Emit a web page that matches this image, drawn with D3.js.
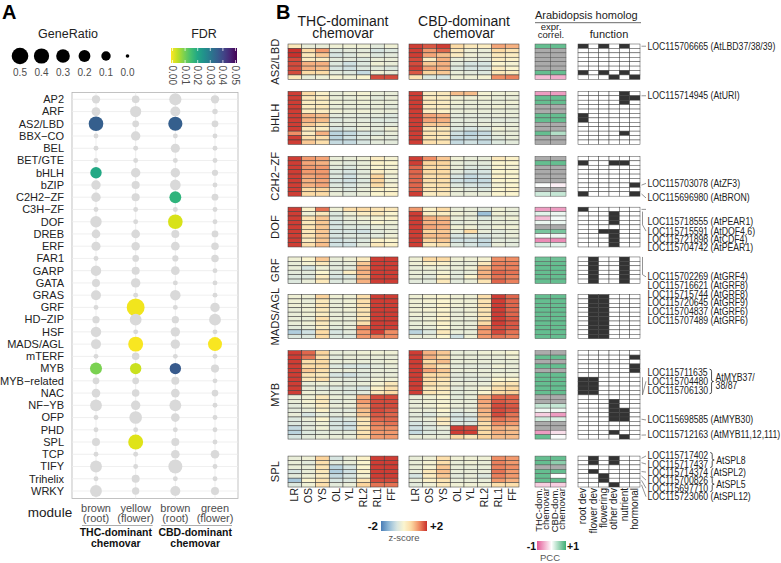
<!DOCTYPE html>
<html><head><meta charset="utf-8">
<script src="https://cdn.jsdelivr.net/npm/d3@7"></script>
<style>
body{margin:0;background:#fff}
svg text{font-family:Arial,"Liberation Sans",Helvetica,sans-serif}
</style></head>
<body><svg id="c" width="781" height="563"></svg>
<script>
// ---------------- Panel A data ----------------
const families = ["AP2","ARF","AS2/LBD","BBX\u2212CO","BEL","BET/GTE","bHLH","bZIP","C2H2\u2212ZF","C3H\u2212ZF","DOF","DREB","ERF","FAR1","GARP","GATA","GRAS","GRF","HD\u2212ZIP","HSF","MADS/AGL","mTERF","MYB","MYB\u2212related","NAC","NF\u2212YB","OFP","PHD","SPL","TCP","TIFY","Trihelix","WRKY"];
const moduleColors = ["brown","yellow","brown","green"];
const moduleTissues = ["(root)","(flower)","(root)","(flower)"];
const chemovarNames = [["THC-dominant","chemovar"],["CBD-dominant","chemovar"]];
const ratio_brownTHC  = [0.066,0.08,0.36,0.005,0.005,0.005,0.18,0.1,0.1,0.005,0.18,0.076,0.09,0.005,0.14,0.057,0.12,0.005,0.04,0.14,0.12,0.005,0.21,0.03,0.076,0.2,0.005,0.005,0.057,0.005,0.2,0.005,0.2];
const ratio_yellowTHC = [0.05,0.17,0.03,0.1,0.005,0.005,0.1,0.06,0.06,0.005,0.005,0.076,0.07,0.028,0.057,0.1,0.005,0.6,0.2,0.005,0.38,0.045,0.18,0.03,0.045,0.1,0.24,0.005,0.38,0.005,0.005,0.057,0.041];
const ratio_brownCBD  = [0.22,0.12,0.33,0.005,0.09,0.005,0.1,0.15,0.2,0.005,0.36,0.057,0.076,0.02,0.076,0.005,0.14,0.005,0.04,0.1,0.1,0.005,0.18,0.057,0.076,0.2,0.076,0.005,0.057,0.076,0.32,0.005,0.12];
const ratio_greenCBD  = [0.066,0.01,0.03,0.005,0.005,0.005,0.02,0.005,0.03,0.005,0.005,0.03,0.045,0.045,0.005,0.005,0.005,0.1,0.2,0.005,0.32,0.005,0.06,0.005,0.028,0.005,0.005,0.005,0.005,0.076,0.005,0.005,0.057];
const fdr_brownTHC  = [null,null,0.035,null,null,null,0.02,null,null,null,null,null,null,null,null,null,null,null,null,null,null,null,0.01,null,null,null,null,null,null,null,null,null,null];
const fdr_yellowTHC = [null,null,null,null,null,null,null,null,null,null,null,null,null,null,null,null,null,0.001,null,null,0.0005,null,0.004,null,null,null,null,null,0.0025,null,null,null,null];
const fdr_brownCBD  = [null,null,0.035,null,null,null,null,null,0.0175,null,0.003,null,null,null,null,null,null,null,null,null,null,null,0.036,null,null,null,null,null,null,null,null,null,null];
const fdr_greenCBD  = [null,null,null,null,null,null,null,null,null,null,null,null,null,null,null,null,null,null,null,null,0.0005,null,null,null,null,null,null,null,null,null,null,null,null];
const sizeLegend = [0.5,0.4,0.3,0.2,0.1,0.0];
const fdrTicks = [0,0.01,0.02,0.03,0.04,0.05];

// ---------------- Panel B data ----------------
const groups = ["AS2/LBD","bHLH","C2H2\u2212ZF","DOF","GRF","MADS/AGL","MYB","SPL"];
const tissues = ["LR","OS","YS","OL","YL","RL2","RL1","FF"];
const functionCats = ["root dev","flower dev","flowering","other dev","nutrient","hormonal"];
const zTicks = [-2,2];

const zTHC_AS2 = [[0.3,-0.3,-0.3,-0.2,-0.2,-0.2,-0.4,-0.2],[2.0,0.6,1.2,-0.5,-0.4,-0.4,-0.6,-0.5],[2.0,0.3,0.8,-0.6,-0.5,-0.3,-0.5,-0.4],[1.8,0.2,0.2,-0.4,-0.4,-0.5,-0.3,-0.3],[1.8,1.0,1.0,-0.5,-0.7,-0.5,-0.2,-0.3],[1.8,1.0,0.9,-0.6,-0.7,-0.5,-0.4,-0.5],[1.8,0.6,0.6,-0.4,-0.5,-0.8,-0.2,-0.3],[0.3,-0.3,-0.2,-0.1,-0.2,0.0,1.8,1.8]];
const zCBD_AS2 = [[1.9,1.7,1.9,0.6,0.3,0.2,1.1,1.0],[1.9,1.2,1.6,0.3,-0.2,-0.3,0.6,0.4],[1.9,1.1,0.9,0.2,-0.2,-0.3,0.3,0.2],[1.8,0.2,1.0,-0.3,-0.3,-0.4,0.2,0.1],[1.8,0.8,1.0,-0.4,-0.6,-0.6,0.0,-0.1],[1.9,1.1,1.0,-0.5,-0.6,-0.6,0.2,0.0],[1.7,0.7,0.8,-0.3,-0.4,-0.5,0.3,0.2],[0.4,-0.5,-0.6,-0.2,-0.2,-0.1,1.3,1.4]];
const zTHC_bHLH = [[1.9,0.6,0.1,-0.3,-0.2,-0.1,-0.3,-0.3],[1.9,0.3,0.2,-0.3,-0.3,-0.2,-0.4,-0.3],[1.9,0.2,0.2,-0.2,-0.3,-0.2,-0.3,-0.3],[1.9,0.2,0.3,-0.3,-0.3,-0.3,-0.3,-0.4],[1.9,0.2,0.2,-0.2,-0.3,-0.2,-0.3,-0.3],[1.9,1.0,0.9,-0.4,-0.4,-0.4,-0.4,-0.5],[1.9,1.0,0.9,-0.5,-0.4,-0.4,-0.5,-0.5],[1.9,0.8,0.5,-0.4,-0.4,-0.3,-0.4,-0.4],[1.9,0.3,0.2,-0.6,-0.5,-0.3,-0.4,-0.2],[1.3,0.2,1.0,-0.9,-0.8,-0.6,-0.5,-0.3],[1.9,0.5,0.5,-0.9,-0.7,-0.5,-0.3,-0.4],[1.9,0.8,0.5,-0.8,-0.8,-0.6,-0.4,-0.4]];
const zCBD_bHLH = [[1.9,0.2,0.3,0.9,0.9,-0.1,-0.2,-0.2],[1.9,0.2,0.2,-0.2,-0.2,-0.2,-0.3,-0.3],[1.9,0.3,0.2,-0.2,-0.3,-0.3,-0.3,-0.2],[1.9,0.2,0.2,-0.3,-0.3,-0.3,-0.2,-0.3],[1.9,0.2,0.1,-0.3,-0.3,-0.3,-0.3,-0.3],[1.9,1.1,1.0,-0.4,-0.4,-0.4,-0.3,-0.3],[1.9,1.1,1.0,-0.4,-0.4,-0.4,-0.4,-0.4],[1.9,0.8,0.8,-0.4,-0.4,-0.3,-0.3,-0.3],[1.9,0.3,0.3,-0.5,-0.6,-0.5,-0.2,-0.3],[1.9,0.4,0.4,-0.7,-0.9,-0.8,-0.3,-0.3],[1.9,0.4,0.3,-0.8,-0.8,-0.7,-0.4,-0.3],[1.9,0.5,0.4,-0.8,-0.7,-0.8,-0.5,-0.4]];
const zTHC_C2H2 = [[1.9,1.2,1.1,-0.3,-0.3,-0.2,0.2,-0.1],[1.9,1.1,1.0,-0.3,-0.4,-0.3,0.1,0.0],[1.9,1.2,1.2,-0.4,-0.5,-0.3,0.0,-0.1],[1.9,1.2,1.2,-0.5,-0.6,-0.4,0.2,-0.1],[1.9,1.1,1.2,-0.5,-0.7,-0.4,0.7,-0.2],[1.9,1.0,1.1,-0.6,-0.7,-0.5,0.7,-0.2],[1.9,1.0,1.1,-0.5,-0.6,-0.4,0.6,-0.1],[1.9,0.6,0.7,-0.4,-0.5,-0.3,0.1,0.0],[1.9,0.6,0.6,-0.3,-0.4,-0.3,0.0,0.1]];
const zCBD_C2H2 = [[1.9,1.3,0.8,-0.2,-0.3,-0.3,0.3,0.1],[1.9,0.7,0.7,-0.3,-0.4,-0.4,0.0,0.0],[1.6,0.6,0.6,-0.3,-0.5,-0.5,0.0,-0.1],[1.6,0.6,0.6,-0.4,-0.6,-0.6,0.0,0.0],[1.6,0.5,0.6,-0.6,-0.8,-0.7,0.1,0.0],[1.6,0.5,0.5,-0.7,-0.8,-0.8,0.0,0.0],[1.6,0.4,0.5,-0.5,-0.6,-0.7,-0.1,0.0],[1.6,0.4,0.4,-0.3,-0.4,-0.5,0.0,0.1],[1.9,0.2,0.3,-0.3,-0.3,-0.3,0.0,0.0]];
const zTHC_DOF = [[1.9,0.1,1.5,-0.2,0.5,0.6,0.4,0.3],[1.9,-0.2,0.3,-0.5,-0.2,0.2,0.3,0.0],[1.9,0.4,0.8,-0.5,-0.3,-0.2,-0.1,0.0],[1.9,0.3,0.8,-0.6,-0.4,-0.3,0.0,-0.2],[1.9,0.4,0.8,-0.6,-0.5,-0.5,-0.3,-0.3],[1.9,0.3,0.8,-0.6,-0.6,-0.7,-0.4,-0.3],[1.9,0.4,0.8,-0.6,-0.5,-0.5,-0.4,-0.2],[1.9,0.2,0.8,-0.7,-0.6,-0.5,0.1,0.0],[1.9,0.5,0.9,-0.7,-0.7,-0.4,0.3,0.1]];
const zCBD_DOF = [[1.2,0.1,0.6,-0.3,-0.3,-0.4,-0.2,-0.3],[1.9,0.2,0.2,-0.2,-0.3,-1.2,-0.2,-0.3],[1.9,1.0,0.9,-0.3,-0.3,-0.5,-0.3,-0.2],[1.9,1.0,1.0,-0.4,-0.3,-0.4,-0.3,-0.3],[1.9,1.1,1.0,-0.2,-0.2,-0.4,-0.2,-0.2],[1.9,0.7,0.8,-0.3,0.6,-0.3,-0.4,-0.3],[1.9,0.9,0.9,-0.6,-0.5,-0.6,-0.4,-0.3],[1.9,0.7,0.8,-0.7,-0.7,-0.8,-0.4,-0.4],[1.9,0.3,0.5,-0.5,-0.6,-0.8,-0.3,-0.4]];
const zTHC_GRF = [[-0.2,0.0,0.8,-0.3,-0.2,0.2,1.9,1.9],[-0.3,-0.1,0.3,-0.4,-0.3,0.8,1.9,1.9],[-0.3,-0.6,-0.2,-0.4,-0.4,1.0,1.9,1.9],[-0.4,-0.4,0.0,-0.5,0.2,1.0,1.9,1.9],[-0.5,-0.5,0.2,-0.6,-0.5,0.9,1.9,1.9],[-0.5,-0.3,0.3,-0.5,-0.4,1.0,1.9,1.9]];
const zCBD_GRF = [[-0.2,0.6,0.6,-0.2,-0.2,-0.1,1.3,1.3],[-0.2,0.1,0.1,-0.3,-0.3,0.3,1.4,1.4],[-0.3,-0.2,-0.2,-0.3,-0.2,0.9,1.4,1.4],[-0.3,-0.3,-0.1,-0.4,-0.3,1.0,1.6,1.5],[-0.3,-0.4,0.1,-0.4,0.0,1.0,1.5,1.4],[-0.4,-0.4,0.3,-0.4,-0.3,0.4,1.6,1.4]];
const zTHC_MADS = [[-0.2,-0.2,0.7,-0.2,-0.2,0.5,1.9,1.9],[-0.2,-0.3,0.3,-0.3,-0.2,0.5,1.9,1.9],[-0.2,-0.2,0.4,-0.3,-0.2,0.5,1.9,1.9],[-0.3,-0.2,0.3,-0.3,-0.2,0.4,1.9,1.9],[-0.3,-0.2,0.2,-0.3,-0.3,0.4,1.9,1.9],[-0.3,-0.3,0.5,-0.3,-0.3,0.4,1.9,1.9],[-0.3,-0.2,0.3,-0.3,-0.3,0.5,1.9,1.9],[-0.4,-0.3,0.2,-0.4,-0.3,1.4,1.9,1.9],[-1.0,-0.7,0.6,-0.6,-0.4,1.2,1.9,1.3],[-0.5,-0.5,0.6,-0.5,-0.5,1.2,1.4,1.3]];
const zCBD_MADS = [[-0.2,-0.1,0.0,-0.2,-0.2,0.5,1.9,1.6],[-0.2,-0.1,0.0,-0.2,-0.2,0.4,1.9,1.6],[-0.2,-0.2,0.1,-0.2,-0.2,0.5,1.9,1.6],[-0.2,-0.1,0.0,-0.3,-0.2,0.4,1.9,1.6],[-0.2,-0.2,0.1,-0.3,-0.2,0.4,1.9,1.6],[-0.3,-0.2,0.1,-0.3,-0.3,0.4,1.9,1.7],[-0.3,-0.2,0.1,-0.3,-0.3,0.6,1.9,1.7],[-0.3,-0.3,0.0,-0.3,-0.3,1.2,1.8,1.7],[-0.9,-0.5,0.3,-0.3,-0.3,1.2,1.8,1.5],[-0.3,-0.3,0.0,-0.7,-0.2,1.2,1.5,1.4]];
const zTHC_MYB = [[1.9,1.6,0.7,-0.3,-0.3,-0.2,-0.2,-0.2],[1.9,1.5,0.5,-0.4,-0.3,-0.3,-0.3,-0.3],[1.9,0.5,0.6,-0.3,-0.3,-0.3,-0.3,-0.2],[1.9,0.6,0.6,-0.5,-0.6,-0.6,-0.4,-0.3],[1.9,0.8,0.5,-0.3,-0.3,-0.4,-0.3,-0.3],[1.9,0.4,0.3,-0.6,-0.7,-0.5,-0.3,-0.3],[1.9,0.3,0.5,-0.4,-0.4,-0.4,-0.2,-0.2],[1.9,-0.3,-0.2,-0.3,-0.4,-0.3,-0.1,0.3],[1.9,-0.3,-0.4,-0.5,-0.5,-0.6,0.1,0.4],[1.9,-0.2,-0.3,-0.4,-0.5,-0.4,0.3,0.6],[-0.3,-0.2,0.3,-0.3,-0.3,1.0,1.8,1.8],[-0.3,-0.1,0.3,-0.4,-0.3,1.2,1.8,1.8],[-0.4,-0.2,0.2,-0.3,-0.3,1.0,1.8,1.8],[-0.4,-0.3,0.1,-0.4,-0.4,0.9,1.8,1.7],[-0.3,-0.6,-0.3,-0.4,-0.3,0.8,1.7,1.6],[-0.5,-0.3,0.0,-0.6,-0.5,0.4,1.6,1.6],[-0.5,-0.4,-0.2,-0.6,-0.7,0.3,1.4,1.5],[-0.8,-0.4,-0.2,-0.6,-0.7,0.4,1.3,1.3],[-0.9,-0.5,-0.4,-0.4,-0.4,0.4,1.2,1.2],[-0.6,-0.4,-0.3,-0.3,-0.3,0.5,1.2,1.2]];
const zCBD_MYB = [[1.9,1.0,0.8,-0.3,-0.3,-0.2,-0.2,-0.1],[1.9,1.0,0.7,-0.3,-0.3,-0.3,-0.3,-0.2],[1.9,0.6,0.9,-0.3,-0.3,-0.3,-0.3,-0.3],[1.9,0.8,0.4,-0.4,-0.4,-0.4,-0.2,-0.3],[1.9,1.1,0.8,-0.3,-0.3,-0.3,-0.3,-0.3],[1.9,0.6,0.6,-0.4,-0.4,-0.3,-0.2,-0.2],[1.9,0.6,0.4,-0.4,-0.4,-0.4,0.0,0.0],[1.9,0.5,0.3,-0.3,-0.3,-0.3,0.3,0.4],[1.9,0.3,0.3,-0.4,-0.3,-0.1,0.5,0.6],[1.9,0.4,0.2,-0.4,-0.3,0.0,0.6,0.7],[-0.3,-0.2,0.0,-0.4,-0.3,1.0,1.6,1.6],[-0.3,-0.2,-0.1,-0.3,-0.3,1.1,1.7,1.6],[-0.3,-0.2,0.0,-0.3,-0.3,1.0,1.8,1.7],[-0.3,-0.3,0.0,-0.4,-0.3,1.0,1.8,1.7],[-0.4,-0.5,-0.2,-0.6,-0.5,0.9,1.8,1.5],[-0.4,-0.3,0.3,-0.6,-0.6,0.8,1.5,1.4],[-0.6,-0.4,0.2,-0.5,-0.5,0.5,1.3,1.2],[-0.7,-0.5,-0.3,1.9,1.8,0.6,1.0,0.9],[-0.8,-0.5,-0.4,1.9,1.9,0.6,1.0,0.9],[-0.3,-0.3,-0.3,0.6,0.3,0.7,0.9,0.9]];
const zTHC_SPL = [[-0.3,-0.2,0.7,-0.6,-0.3,0.1,1.9,1.9],[-0.3,-0.4,0.5,-0.4,-0.3,0.0,1.9,1.9],[-0.3,-0.3,0.4,-0.9,-0.6,0.0,1.9,1.9],[-0.6,-0.3,0.3,-1.0,-0.7,0.1,1.9,1.9],[-0.4,-0.2,0.2,-0.8,-0.6,-0.1,1.9,1.9],[-1.1,0.0,0.4,-0.6,-0.5,0.4,1.8,1.8],[-0.5,-0.2,0.5,-0.4,-0.3,0.7,1.5,1.5]];
const zCBD_SPL = [[-0.3,-0.2,0.5,-0.2,-0.2,-0.2,1.3,1.2],[-0.3,-0.1,0.5,-0.3,-0.2,-0.3,1.4,1.2],[-0.3,-0.1,0.8,-0.3,-0.3,-0.3,1.4,1.3],[-0.3,0.3,0.9,-0.3,-0.3,-0.3,1.5,1.2],[-0.6,0.2,0.8,-0.4,-0.3,-0.5,1.4,1.2],[-0.3,0.1,0.4,-0.3,-0.3,-0.3,1.2,1.0],[-0.4,-0.2,0.3,-0.2,-0.2,-0.2,0.5,0.5]];

// PCC [THC, CBD], null = no value (gray)
const pcc_AS2 = [[0.8,0.8],[null,null],[null,null],[null,null],[null,null],[null,null],[0.8,0.8],[-0.4,-0.5]];
const pcc_bHLH = [[-0.6,-0.6],[0.8,0.8],[0.8,0.8],[null,null],[null,null],[0.8,0.8],[0.8,0.8],[null,null],[null,null],[0.8,0.4],[null,null],[null,null]];
const pcc_C2H2 = [[null,null],[0.8,0.8],[null,null],[null,null],[null,null],[null,null],[0.02,-0.1],[null,null],[0.25,0.3]];
const pcc_DOF = [[-0.6,-0.6],[0.15,0.1],[-0.4,0.05],[0.1,0.1],[null,null],[0.7,0.7],[0.03,0.1],[-0.7,-0.7],[0.2,0.15]];
const pcc_GRF = [[0.75,0.75],[0.8,0.8],[0.8,0.8],[0.8,0.8],[0.8,0.8],[0.8,0.8]];
const pcc_MADS = [[0.8,0.8],[0.8,0.8],[0.8,0.8],[0.8,0.8],[0.8,0.8],[0.8,0.8],[0.8,0.8],[0.8,0.8],[0.8,0.8],[0.8,0.8]];
const pcc_MYB = [[null,null],[0.8,0.8],[null,null],[0.8,0.8],[null,null],[0.8,0.8],[0.8,0.8],[0.8,0.8],[0.8,0.8],[0.8,0.8],[null,null],[null,null],[0.3,0.3],[0.08,0.08],[-0.3,-0.6],[0.25,0.2],[null,null],[null,null],[-0.6,-0.2],[0.8,0.02]];
const pcc_SPL = [[0.8,0.8],[0.8,0.6],[null,null],[0.8,0.8],[0.8,0.0],[0.8,0.8],[-0.3,-0.3]];

// function annotation (1 = black)
const fn_AS2 = [[1,0,1,0,1,0],[0,0,0,0,0,0],[0,0,0,0,0,0],[0,0,0,0,0,0],[0,0,0,0,0,0],[0,0,0,0,0,0],[1,0,1,0,1,0],[0,0,0,1,0,1]];
const fn_bHLH = [[0,0,0,0,1,0],[0,0,0,0,1,1],[0,0,0,0,1,0],[0,0,0,0,0,0],[0,0,0,0,0,0],[1,0,0,0,0,0],[1,0,0,0,0,0],[0,0,0,0,0,0],[0,0,0,0,0,0],[0,0,0,0,1,0],[0,0,0,0,0,0],[0,0,0,0,0,0]];
const fn_C2H2 = [[0,0,0,0,0,0],[1,0,0,1,1,0],[0,0,0,0,0,0],[0,0,0,0,0,0],[0,0,0,0,0,0],[0,0,0,0,0,0],[0,0,0,0,0,1],[0,0,0,0,0,0],[1,0,0,0,0,1]];
const fn_DOF = [[1,0,0,0,0,0],[0,0,0,1,0,0],[0,0,0,1,0,0],[0,0,0,1,0,0],[0,0,0,0,0,0],[0,0,1,1,0,0],[0,0,0,1,0,0],[0,0,0,1,0,0],[0,0,0,1,0,0]];
const fn_GRF = [[0,1,0,0,1,0],[0,1,0,0,1,0],[0,1,0,0,1,0],[0,1,0,0,1,0],[0,1,0,0,1,0],[0,1,0,0,1,0]];
const fn_MADS = [[0,1,1,0,0,0],[0,1,1,0,0,0],[0,1,1,0,0,0],[0,1,1,0,0,0],[0,1,1,0,0,0],[0,1,1,0,0,0],[0,1,1,0,0,0],[0,1,1,0,0,0],[0,1,1,0,0,0],[0,1,1,0,0,0]];
const fn_MYB = [[0,0,0,0,0,0],[0,0,0,0,0,1],[0,0,0,0,0,0],[0,0,0,0,0,1],[0,0,0,0,0,1],[0,0,0,0,0,0],[1,1,0,0,0,0],[1,1,0,0,0,0],[1,1,0,0,0,0],[1,1,0,0,0,0],[0,0,0,0,0,0],[0,0,0,1,0,0],[0,0,0,1,0,0],[0,0,0,1,1,0],[0,0,0,1,1,0],[0,0,0,1,1,0],[0,0,0,0,0,0],[0,0,0,0,0,0],[0,0,0,1,0,0],[0,0,0,0,1,0]];
const fn_SPL = [[0,1,0,1,0,0],[0,1,0,1,0,0],[0,0,0,0,0,0],[0,1,0,0,0,0],[0,0,1,0,0,0],[0,0,1,0,0,0],[0,0,0,1,0,0]];

// gene labels: g = group, r0..r1 = rows pointed at, at = label position in row units
const geneLabels = [
 {g:0,r0:0,r1:0,at:0,text:"LOC115706665 (AtLBD37/38/39)"},
 {g:1,r0:0.5,r1:0.5,at:0.5,text:"LOC115714945 (AtURI)"},
 {g:2,r0:6,r1:6,at:5.6,text:"LOC115703078 (AtZF3)"},
 {g:2,r0:8,r1:8,at:8.9,text:"LOC115696980 (AtBRON)"},
 {g:3,r0:0,r1:0,at:0,text:""},
 {g:3,r0:1,r1:3,at:4.9,text:"LOC115718555 (AtPEAR1)",lineAt:4.9,textAt:2.85},
 {g:3,r0:null,at:4.9,text:"LOC115715591 (AtDOF4.6)"},
 {g:3,r0:null,at:6.9,text:"LOC115721898 (AtCDF4)"},
 {g:3,r0:null,at:8.7,text:"LOC115704742 (AtPEAR1)"},
 {g:4,r0:0,r1:3,at:4.0,text:"LOC115702269 (AtGRF4)"},
 {g:4,r0:null,at:6.06,text:"LOC115716621 (AtGRF8)"},
 {g:4,r0:null,at:7.98,text:"LOC115715744 (AtGRF8)"},
 {g:4,r0:null,at:9.9,text:"LOC115720645 (AtGRF9)"},
 {g:4,r0:null,at:11.94,text:"LOC115704837 (AtGRF6)"},
 {g:4,r0:null,at:13.87,text:"LOC115707489 (AtGRF6)"},
 {g:6,r0:null,at:4.48,text:"LOC115711635"},
 {g:6,r0:6,r1:9,at:6.42,text:"LOC115704480"},
 {g:6,r0:null,at:8.46,text:"LOC115706130"},
 {g:6,r0:15,r1:15,at:15.18,text:"LOC115698585 (AtMYB30)"},
 {g:6,r0:18.6,r1:18.6,at:18.57,text:"LOC115712163 (AtMYB11,12,111)"},
 {g:7,r0:0,r1:0,at:-0.52,text:"LOC115717402"},
 {g:7,r0:1,r1:1,at:1.3,text:"LOC115717437"},
 {g:7,r0:3,r1:3,at:3.12,text:"LOC115714374 (AtSPL2)"},
 {g:7,r0:4,r1:4,at:4.94,text:"LOC115700826"},
 {g:7,r0:5,r1:5,at:6.76,text:"LOC115697710"},
 {g:7,r0:6,r1:6,at:8.69,text:"LOC115723060 (AtSPL12)"}
];
const braces = [
 {g:6,from:4.48,to:8.46,ref:"LOC115711635",lines:["AtMYB37/","38/87"]},
 {g:7,from:-0.52,to:1.3,ref:"LOC115717402",lines:["AtSPL8"]},
 {g:7,from:4.94,to:6.76,ref:"LOC115700826",lines:["AtSPL5"]}
];

// ---------------- drawing ----------------
const svg = d3.select("#c");
const txt = (x,y,s,size,opts={}) => {
  const t = svg.append("text").attr("x",x).attr("y",y).text(s).attr("font-size",size).attr("fill",opts.fill||"#1a1a1a");
  if(opts.anchor) t.attr("text-anchor",opts.anchor);
  if(opts.bold) t.attr("font-weight","bold");
  return t;
};
txt(2,19,"A",20,{bold:true,fill:"#000"});
txt(276,19,"B",20,{bold:true,fill:"#000"});

// ---- Panel A ----
const ratioCols = [ratio_brownTHC,ratio_yellowTHC,ratio_brownCBD,ratio_greenCBD];
const fdrCols = [fdr_brownTHC,fdr_yellowTHC,fdr_brownCBD,fdr_greenCBD];
const xA = d3.scalePoint().domain(d3.range(4)).range([96,215]);
const yA = d3.scalePoint().domain(families).range([99.3,491]);
const rA = d3.scaleSqrt().domain([0,0.5]).range([1.8,8.3]);
const fdrColor = v => d3.interpolateViridis(1 - v/0.05);

const gA = svg.append("g");
gA.append("rect").attr("x",72).attr("y",92.5).attr("width",166).attr("height",406).attr("fill","#fff").attr("stroke","#b3b3b3").attr("stroke-width",0.8);
gA.selectAll("line.h").data(families).join("line").attr("x1",72).attr("x2",238).attr("y1",d=>yA(d)).attr("y2",d=>yA(d)).attr("stroke","#ebebeb").attr("stroke-width",0.8);
gA.selectAll("line.v").data(d3.range(4)).join("line").attr("y1",92.5).attr("y2",498.5).attr("x1",d=>xA(d)).attr("x2",d=>xA(d)).attr("stroke","#ebebeb").attr("stroke-width",0.8);
const dots = [];
families.forEach((f,i)=>{ for(let m=0;m<4;m++) dots.push({f,m,v:ratioCols[m][i],q:fdrCols[m][i]}); });
gA.selectAll("circle.d").data(dots).join("circle")
  .attr("cx",d=>xA(d.m)).attr("cy",d=>yA(d.f)).attr("r",d=>rA(d.v))
  .attr("fill",d=>d.q==null?"#d9d9d9":fdrColor(d.q));
gA.selectAll("text.fam").data(families).join("text").attr("x",64).attr("y",d=>yA(d)).attr("dy","0.35em")
  .attr("text-anchor","end").attr("font-size",11).attr("fill","#222").text(d=>d);
// module axis labels
d3.range(4).forEach(m=>{
  txt(xA(m),512,moduleColors[m],11,{anchor:"middle",fill:"#4d4d4d"});
  txt(xA(m),522,moduleTissues[m],11,{anchor:"middle",fill:"#4d4d4d"});
});
txt(50,517,"module",13.5,{anchor:"middle",fill:"#1a1a1a"});
[[0,1],[2,3]].forEach((p,k)=>{
  svg.append("line").attr("x1",xA(p[0])-14).attr("x2",xA(p[1])+17).attr("y1",525.5).attr("y2",525.5).attr("stroke","#999").attr("stroke-width",0.8);
  const cx = (xA(p[0])+xA(p[1]))/2;
  txt(cx,536,chemovarNames[k][0],10.5,{anchor:"middle",bold:true,fill:"#111"});
  txt(cx,547,chemovarNames[k][1],10.5,{anchor:"middle",bold:true,fill:"#111"});
});
// size legend
txt(68,38,"GeneRatio",12.5,{anchor:"middle",fill:"#222"});
const xS = d3.scalePoint().domain(sizeLegend).range([20,127.5]);
svg.selectAll("circle.sl").data(sizeLegend).join("circle").attr("cx",d=>xS(d)).attr("cy",56).attr("r",d=>rA(d)).attr("fill","#000");
svg.selectAll("text.sl").data(sizeLegend).join("text").attr("x",d=>xS(d)).attr("y",76).attr("text-anchor","middle")
  .attr("font-size",10).attr("fill","#4d4d4d").text(d=>d.toFixed(1));
// FDR legend
txt(204,38,"FDR",12.5,{anchor:"middle",fill:"#222"});
const defs = svg.append("defs");
const gradV = defs.append("linearGradient").attr("id","gv");
d3.range(0,1.01,0.1).forEach(t=>gradV.append("stop").attr("offset",t).attr("stop-color",d3.interpolateViridis(1-t)));
svg.append("rect").attr("x",171).attr("y",48).attr("width",66).attr("height",15).attr("fill","url(#gv)");
const xF = d3.scaleLinear().domain([0,0.05]).range([172.5,235.5]);
fdrTicks.forEach(v=>{
  svg.append("line").attr("x1",xF(v)).attr("x2",xF(v)).attr("y1",48).attr("y2",51).attr("stroke","#fff").attr("stroke-width",0.7);
  svg.append("line").attr("x1",xF(v)).attr("x2",xF(v)).attr("y1",60).attr("y2",63).attr("stroke","#fff").attr("stroke-width",0.7);
  svg.append("text").attr("transform",`translate(${xF(v)-3.5},65.5) rotate(90)`).attr("font-size",10).attr("fill","#4d4d4d").text(v.toFixed(2));
});

// ---- Panel B ----
const heat = [
 {thc:zTHC_AS2,cbd:zCBD_AS2,pcc:pcc_AS2,fn:fn_AS2},
 {thc:zTHC_bHLH,cbd:zCBD_bHLH,pcc:pcc_bHLH,fn:fn_bHLH},
 {thc:zTHC_C2H2,cbd:zCBD_C2H2,pcc:pcc_C2H2,fn:fn_C2H2},
 {thc:zTHC_DOF,cbd:zCBD_DOF,pcc:pcc_DOF,fn:fn_DOF},
 {thc:zTHC_GRF,cbd:zCBD_GRF,pcc:pcc_GRF,fn:fn_GRF},
 {thc:zTHC_MADS,cbd:zCBD_MADS,pcc:pcc_MADS,fn:fn_MADS},
 {thc:zTHC_MYB,cbd:zCBD_MYB,pcc:pcc_MYB,fn:fn_MYB},
 {thc:zTHC_SPL,cbd:zCBD_SPL,pcc:pcc_SPL,fn:fn_SPL}
];
const rh = 4.42;
const gaps = [0,12,12,11,10,11,12,17];
let acc = 44;
const yBand = heat.map((h,i)=>{ acc += gaps[i]; const s = d3.scaleBand().domain(d3.range(h.thc.length)).range([acc, acc + h.thc.length*rh]); acc += h.thc.length*rh; return s; });
const rowY = (g,r) => yBand[g].range()[0] + (r+0.5)*rh;

const zColor = d3.scaleLinear().domain([-2,-1.333,-0.667,0,0.667,1.333,2])
  .range(["#4a7db6","#8fb8d6","#d3e3e3","#fbf5cf","#fcd8a0","#ef8a62","#c9302c"]).clamp(true);
const pccColor = d3.scaleLinear().domain([-1,0,1]).range(["#e35a97","#ffffff","#3fae74"]);
const xTHC = d3.scaleBand().domain(tissues).range([288,398]);
const xCBD = d3.scaleBand().domain(tissues).range([409,519]);
const xPCC = d3.scaleBand().domain([0,1]).range([535,566]);
const xFn = d3.scaleBand().domain(functionCats).range([578,640]);

heat.forEach((h,g)=>{
  const yb = yBand[g];
  [[h.thc,xTHC],[h.cbd,xCBD]].forEach(([mat,xs])=>{
    const cells = [];
    mat.forEach((row,r)=>row.forEach((v,c)=>cells.push({r,c,v})));
    svg.append("g").selectAll("rect").data(cells).join("rect")
      .attr("x",d=>xs(tissues[d.c])).attr("y",d=>yb(d.r)).attr("width",xs.bandwidth()).attr("height",yb.bandwidth())
      .attr("fill",d=>zColor(d.v)).attr("stroke","#3d3d3d").attr("stroke-width",0.55);
  });
  const pc = [];
  h.pcc.forEach((row,r)=>row.forEach((v,c)=>pc.push({r,c,v})));
  svg.append("g").selectAll("rect").data(pc).join("rect")
    .attr("x",d=>xPCC(d.c)).attr("y",d=>yb(d.r)).attr("width",xPCC.bandwidth()).attr("height",yb.bandwidth())
    .attr("fill",d=>d.v==null?"#ababab":pccColor(d.v)).attr("stroke","#555").attr("stroke-width",0.5);
  const fc = [];
  h.fn.forEach((row,r)=>row.forEach((v,c)=>fc.push({r,c,v})));
  svg.append("g").selectAll("rect").data(fc).join("rect")
    .attr("x",d=>xFn(functionCats[d.c])).attr("y",d=>yb(d.r)).attr("width",xFn.bandwidth()).attr("height",yb.bandwidth())
    .attr("fill",d=>d.v?"#333":"#fff").attr("stroke","#444").attr("stroke-width",0.5);
  // group label
  const cy = (yb.range()[0]+yb.range()[1])/2;
  svg.append("text").attr("transform",`translate(279,${cy}) rotate(-90)`).attr("text-anchor","middle")
    .attr("font-size",11.2).attr("fill","#222").text(groups[g]);
});

// headers
[[xTHC,0],[xCBD,1]].forEach(([xs,k])=>{
  const cx = (xs.range()[0]+xs.range()[1])/2;
  txt(cx,25.5,chemovarNames[k][0],14,{anchor:"middle",fill:"#1a1a1a"});
  txt(cx,38,chemovarNames[k][1],14,{anchor:"middle",fill:"#1a1a1a"});
});
txt(535,18.5,"Arabidopsis homolog",11,{fill:"#222"});
svg.append("line").attr("x1",535).attr("x2",641).attr("y1",22.7).attr("y2",22.7).attr("stroke","#444").attr("stroke-width",0.8);
txt(551,29.5,"expr.",9.5,{anchor:"middle",fill:"#222"});
txt(551,38,"correl.",9.5,{anchor:"middle",fill:"#222"});
txt(609,38,"function",11,{anchor:"middle",fill:"#222"});

// bottom axis labels
[xTHC,xCBD].forEach(xs=>tissues.forEach(t=>{
  svg.append("text").attr("transform",`translate(${xs(t)+xs.bandwidth()/2+3.6},488) rotate(-90)`).attr("text-anchor","end")
    .attr("font-size",10.5).attr("fill","#1a1a1a").text(t);
}));
functionCats.forEach(f=>{
  svg.append("text").attr("transform",`translate(${xFn(f)+xFn.bandwidth()/2+3.2},488) rotate(-90)`).attr("text-anchor","end")
    .attr("font-size",10).attr("fill","#1a1a1a").text(f);
});
[["THC-dom.","chemovar"],["CBD-dom.","chemovar"]].forEach((lines,c)=>{
  const cx = xPCC(c)+xPCC.bandwidth()/2;
  lines.forEach((l,k)=>svg.append("text").attr("transform",`translate(${cx-0.5+k*7},488) rotate(-90)`).attr("text-anchor","end")
    .attr("font-size",9.5).attr("fill","#1a1a1a").text(l));
});

// z-score legend
const gradZ = defs.append("linearGradient").attr("id","gz");
d3.range(0,1.001,0.05).forEach(t=>gradZ.append("stop").attr("offset",t).attr("stop-color",zColor(-2+4*t)));
svg.append("rect").attr("x",381).attr("y",521).attr("width",46).attr("height",10).attr("fill","url(#gz)");
txt(378,530,"-"+Math.abs(zTicks[0]),11.5,{anchor:"end",bold:true,fill:"#111"});
txt(430,530,"+"+zTicks[1],11.5,{bold:true,fill:"#111"});
txt(404,541,"z-score",9.5,{anchor:"middle",fill:"#555"});
// PCC legend
const gradP = defs.append("linearGradient").attr("id","gp");
d3.range(0,1.001,0.1).forEach(t=>gradP.append("stop").attr("offset",t).attr("stop-color",pccColor(-1+2*t)));
svg.append("rect").attr("x",537).attr("y",541).attr("width",29).attr("height",9).attr("fill","url(#gp)");
txt(536,549.5,"-1",10.5,{anchor:"end",bold:true,fill:"#111"});
txt(567,549.5,"+1",10.5,{bold:true,fill:"#111"});
txt(550,561,"PCC",9.5,{anchor:"middle",fill:"#555"});

// gene labels
const LX = 647.5, SX = 0.87, LF = 10;
const widths = {};
geneLabels.forEach(L=>{
  const ty = rowY(L.g, L.textAt!=null?L.textAt:L.at);
  if(L.text){
    const t = svg.append("text").attr("transform",`translate(${LX},${ty}) scale(${SX},1)`).attr("dy","0.35em")
      .attr("font-size",LF).attr("fill","#222").text(L.text);
    widths[L.text] = {w:t.node().getComputedTextLength()*SX, y:ty};
  }
  if(L.r0!=null){
    const ly = rowY(L.g, L.lineAt!=null?L.lineAt:L.at);
    if(L.r1!==L.r0){
      const y0 = yBand[L.g].range()[0] + L.r0*rh, y1 = yBand[L.g].range()[0] + (L.r1+1)*rh;
      svg.append("line").attr("x1",642.5).attr("x2",642.5).attr("y1",y0).attr("y2",y1).attr("stroke","#666").attr("stroke-width",0.7);
      svg.append("line").attr("x1",642.5).attr("x2",646).attr("y1",y1).attr("y2",ly).attr("stroke","#666").attr("stroke-width",0.7);
    } else {
      svg.append("line").attr("x1",641.5).attr("x2",646).attr("y1",rowY(L.g,L.r0)).attr("y2",ly).attr("stroke","#666").attr("stroke-width",0.7);
    }
  }
});
braces.forEach(B=>{
  const y0 = rowY(B.g,B.from)-3.5, y1 = rowY(B.g,B.to)+3.5, ym = (y0+y1)/2;
  const bx = LX + widths[B.ref].w + 2;
  const p = d3.path();
  p.moveTo(bx,y0); p.quadraticCurveTo(bx+2,y0,bx+2,y0+2); p.lineTo(bx+2,ym-1.5); p.quadraticCurveTo(bx+2,ym,bx+4,ym);
  p.quadraticCurveTo(bx+2,ym,bx+2,ym+1.5); p.lineTo(bx+2,y1-2); p.quadraticCurveTo(bx+2,y1,bx,y1);
  svg.append("path").attr("d",p.toString()).attr("fill","none").attr("stroke","#222").attr("stroke-width",0.8);
  B.lines.forEach((l,k)=>{
    svg.append("text").attr("transform",`translate(${bx+6},${ym + (k - (B.lines.length-1)/2)*8.6}) scale(${SX},1)`).attr("dy","0.35em")
      .attr("font-size",LF).attr("fill","#222").text(l);
  });
});
</script></body></html>
